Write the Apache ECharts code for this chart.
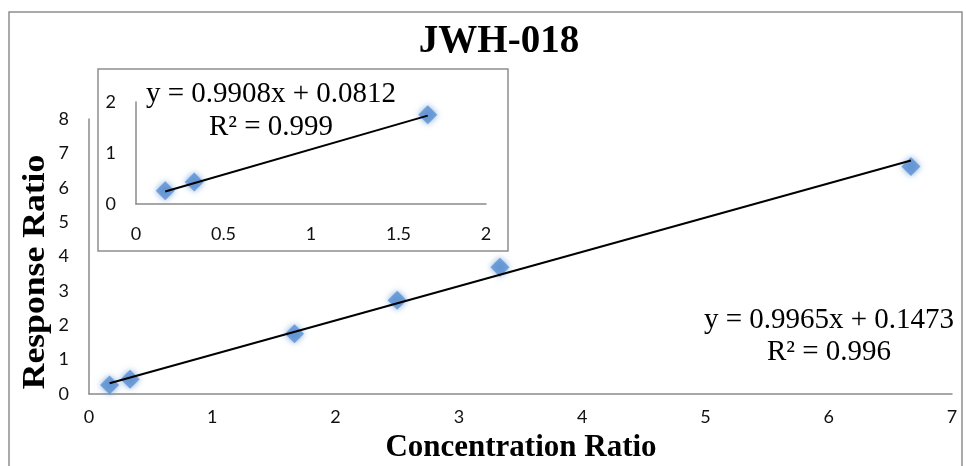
<!DOCTYPE html>
<html>
<head>
<meta charset="utf-8">
<script src="https://cdn.jsdelivr.net/npm/echarts@6/dist/echarts.min.js"></script>
<style>
  html, body { margin: 0; padding: 0; background: #ffffff; }
  #chart { width: 966px; height: 466px; }
</style>
</head>
<body>
<div id="chart"></div>
<script>
// Calibration points: concentration ratio vs. response ratio
const concentrationRatio = [0.167, 0.333, 1.667, 2.5, 3.333, 6.667];
const responseRatio      = [0.26, 0.43, 1.75, 2.73, 3.69, 6.62];

// Number of low-level points repeated in the zoomed inset
const insetCount = 3;

// Linear fits (slope, intercept, R²)
const mainFit  = { slope: 0.9965, intercept: 0.1473, r2: 0.996 };
const insetFit = { slope: 0.9908, intercept: 0.0812, r2: 0.999 };

// Axis ranges [min, max, step]
const mainXRange  = [0, 7, 1];
const mainYRange  = [0, 8, 1];
const insetXRange = [0, 2, 0.5];
const insetYRange = [0, 2, 1];

const chartTitle = 'JWH-018';
const xTitle = 'Concentration Ratio';
const yTitle = 'Response Ratio';

function pairs(n) {
  const out = [];
  for (let i = 0; i < n; i++) out.push([concentrationRatio[i], responseRatio[i]]);
  return out;
}
function fitLine(fit, n) {
  const xs = concentrationRatio.slice(0, n);
  const x0 = Math.min.apply(null, xs), x1 = Math.max.apply(null, xs);
  return [[x0, fit.slope * x0 + fit.intercept], [x1, fit.slope * x1 + fit.intercept]];
}
function fmt(v) { return v.toString(); }
function eqText(fit) {
  return 'y = ' + fit.slope.toFixed(4) + 'x + ' + fit.intercept.toFixed(4) +
         '\nR\u00B2 = ' + fit.r2.toFixed(3);
}

const serif = "'Liberation Serif', 'Times New Roman', serif";
const sans = "Lato, 'Open Sans', sans-serif";
const axisGray = '#8a8a8a';
const markerBlue = '#5b90d2';

function labelStyle(margin) {
  return { color: '#111', fontFamily: sans, fontSize: 18, margin: margin, formatter: fmt };
}
function valueAxis(range, gridIndex, margin) {
  return {
    type: 'value',
    gridIndex: gridIndex,
    min: range[0], max: range[1], interval: range[2],
    splitLine: { show: false },
    axisTick: { show: false },
    axisLine: { show: true, lineStyle: { color: axisGray, width: 1.5 } },
    axisLabel: labelStyle(margin)
  };
}

const markerStyle = {
  color: markerBlue,
  shadowColor: 'rgba(91,144,210,0.95)',
  shadowBlur: 6
};

const chart = echarts.init(document.getElementById('chart'), null, { renderer: 'canvas' });

chart.setOption({
  animation: false,
  backgroundColor: '#ffffff',
  grid: [
    { left: 89, top: 119, width: 863, height: 275 },
    { left: 136, top: 102, width: 350, height: 102 }
  ],
  xAxis: [ valueAxis(mainXRange, 0, 14), valueAxis(insetXRange, 1, 21) ],
  yAxis: [ valueAxis(mainYRange, 0, 20), valueAxis(insetYRange, 1, 20) ],
  graphic: [
    // outer chart frame
    { type: 'rect', z: -10, silent: true,
      shape: { x: 9, y: 12, width: 953, height: 460 },
      style: { fill: '#ffffff', stroke: '#8f8f8f', lineWidth: 1.5 } },
    // inset frame
    { type: 'rect', z: -5, silent: true,
      shape: { x: 98, y: 69, width: 410, height: 182 },
      style: { fill: '#ffffff', stroke: '#8f8f8f', lineWidth: 1.5 } },
    { type: 'text', z: 10, silent: true, x: 499, y: 42,
      style: { text: chartTitle, font: 'bold 39px ' + serif, fill: '#000',
               textAlign: 'center', textVerticalAlign: 'middle' } },
    { type: 'text', z: 10, silent: true, x: 521, y: 448,
      style: { text: xTitle, font: 'bold 31px ' + serif, fill: '#000',
               textAlign: 'center', textVerticalAlign: 'middle' } },
    { type: 'text', z: 10, silent: true, x: 36, y: 272, rotation: Math.PI / 2,
      scaleX: 1.15,
      style: { text: yTitle, font: 'bold 31px ' + serif, fill: '#000',
               textAlign: 'center', textVerticalAlign: 'middle' } },
    { type: 'text', z: 10, silent: true, x: 829, y: 336,
      style: { text: eqText(mainFit), font: '29px ' + serif, fill: '#000', lineHeight: 32,
               textAlign: 'center', textVerticalAlign: 'middle' } },
    { type: 'text', z: 10, silent: true, x: 271, y: 111,
      style: { text: eqText(insetFit), font: '29px ' + serif, fill: '#000', lineHeight: 33,
               textAlign: 'center', textVerticalAlign: 'middle' } }
  ],
  series: [
    { type: 'scatter', xAxisIndex: 0, yAxisIndex: 0, data: pairs(concentrationRatio.length),
      symbol: 'diamond', symbolSize: 19, itemStyle: markerStyle, z: 2 },
    { type: 'line', xAxisIndex: 0, yAxisIndex: 0, data: fitLine(mainFit, concentrationRatio.length),
      showSymbol: false, symbol: 'none', lineStyle: { color: '#000', width: 2 }, z: 3 },
    { type: 'scatter', xAxisIndex: 1, yAxisIndex: 1, data: pairs(insetCount),
      symbol: 'diamond', symbolSize: 19, itemStyle: markerStyle, z: 2 },
    { type: 'line', xAxisIndex: 1, yAxisIndex: 1, data: fitLine(insetFit, insetCount),
      showSymbol: false, symbol: 'none', lineStyle: { color: '#000', width: 2 }, z: 3 }
  ]
});
</script>
</body>
</html>
